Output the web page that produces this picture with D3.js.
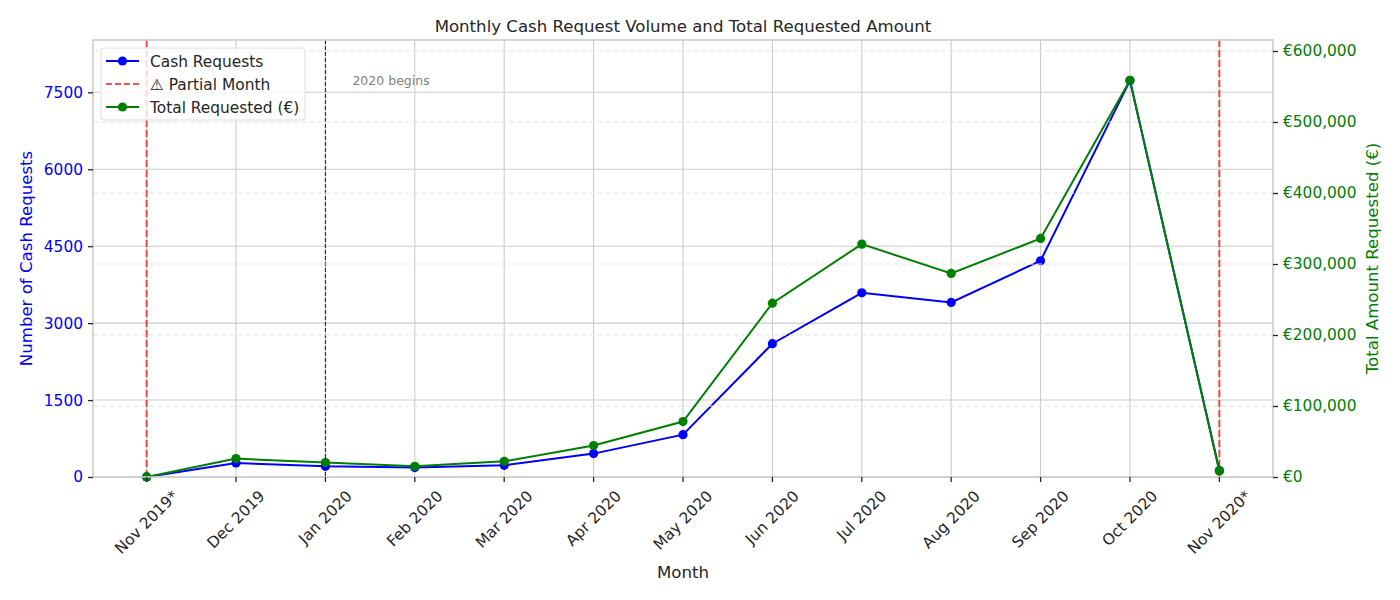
<!DOCTYPE html>
<html><head><meta charset="utf-8">
<script src="https://cdn.jsdelivr.net/npm/d3@7"></script>
<style>
body{margin:0;background:#fff;}
text{font-family:"DejaVu Sans",sans-serif;}
</style></head>
<body><svg id="c" width="1400" height="600"></svg>
<script>
const months = ["Nov 2019*","Dec 2019","Jan 2020","Feb 2020","Mar 2020","Apr 2020","May 2020","Jun 2020","Jul 2020","Aug 2020","Sep 2020","Oct 2020","Nov 2020*"];
const cashRequests = [1, 273, 208, 183, 228, 456, 826, 2599, 3592, 3403, 4216, 7728, 125];
const totalRequested = [100, 25900, 20300, 15100, 22100, 44260, 78080, 244800, 328000, 286700, 336000, 558700, 8500];
const leftTicks = [0, 1500, 3000, 4500, 6000, 7500];
const rightTicks = [0, 100000, 200000, 300000, 400000, 500000, 600000];
const partialMonths = ["Nov 2019*", "Nov 2020*"];
const yearStart = "Jan 2020";

const svg = d3.select("#c");
const L = 93, R = 1273, T = 40, B = 477;
const FS = 15.4, MR = 4.6;
const x = d3.scaleLinear().domain([-0.6, months.length - 1 + 0.6]).range([L, R]);
const yL = d3.scaleLinear().domain([0, 8520]).range([B, T]);
const yR = d3.scaleLinear().domain([0, 615500]).range([B, T]);
const blue = "#0000ff", green = "#008000", txt = "#262626";

// left grid
svg.append("g").selectAll("line").data(leftTicks).join("line")
  .attr("x1", L).attr("x2", R).attr("y1", d => yL(d)).attr("y2", d => yL(d))
  .attr("stroke", "#cccccc").attr("stroke-width", 1.1);
// vertical grid
svg.append("g").selectAll("line").data(months).join("line")
  .attr("x1", (d, i) => x(i)).attr("x2", (d, i) => x(i)).attr("y1", T).attr("y2", B)
  .attr("stroke", "#cccccc").attr("stroke-width", 1.1);

// blue line
const lineL = d3.line().x((d, i) => x(i)).y(d => yL(d));
svg.append("path").datum(cashRequests).attr("d", lineL)
  .attr("fill", "none").attr("stroke", blue).attr("stroke-width", 2);
svg.append("g").selectAll("circle").data(cashRequests).join("circle")
  .attr("cx", (d, i) => x(i)).attr("cy", d => yL(d)).attr("r", MR).attr("fill", blue);

// partial month lines
svg.append("g").selectAll("line").data(partialMonths).join("line")
  .attr("x1", d => x(months.indexOf(d))).attr("x2", d => x(months.indexOf(d)))
  .attr("y1", T).attr("y2", B)
  .attr("stroke", "#ff0000").attr("stroke-opacity", 0.7).attr("stroke-width", 2)
  .attr("stroke-dasharray", "7,3");
// year start
const xj = x(months.indexOf(yearStart));
svg.append("line").attr("x1", xj).attr("x2", xj).attr("y1", T).attr("y2", B)
  .attr("stroke", "#000").attr("stroke-opacity", 0.8).attr("stroke-width", 1.1).attr("stroke-dasharray", "4,2");
svg.append("text").attr("x", xj + 27).attr("y", 84.5).attr("font-size", 12.5).attr("fill", "#808080")
  .text("2020 begins");

// right dashed grid
svg.append("g").selectAll("line").data(rightTicks).join("line")
  .attr("x1", L).attr("x2", R).attr("y1", d => yR(d)).attr("y2", d => yR(d))
  .attr("stroke", "#e3e3e3").attr("stroke-width", 1.1).attr("stroke-dasharray", "5,3");

// green line
const lineR = d3.line().x((d, i) => x(i)).y(d => yR(d));
svg.append("path").datum(totalRequested).attr("d", lineR)
  .attr("fill", "none").attr("stroke", green).attr("stroke-width", 2);
svg.append("g").selectAll("circle").data(totalRequested).join("circle")
  .attr("cx", (d, i) => x(i)).attr("cy", d => yR(d)).attr("r", MR).attr("fill", green);

// spines
svg.append("rect").attr("x", L).attr("y", T).attr("width", R - L).attr("height", B - T)
  .attr("fill", "none").attr("stroke", "#cccccc").attr("stroke-width", 1.6);

// left axis
const gL = svg.append("g").attr("transform", `translate(${L},0)`)
  .call(d3.axisLeft(yL).tickValues(leftTicks).tickSize(5).tickPadding(5).tickFormat(d3.format("d")));
gL.select(".domain").remove();
gL.selectAll(".tick line").attr("stroke", "#262626").attr("stroke-width", 1.3);
gL.selectAll(".tick text").attr("fill", blue).attr("font-size", FS).attr("font-family", "DejaVu Sans");

// right axis
const gR = svg.append("g").attr("transform", `translate(${R},0)`)
  .call(d3.axisRight(yR).tickValues(rightTicks).tickSize(5).tickPadding(5).tickFormat(d => "€" + d3.format(",")(d)));
gR.select(".domain").remove();
gR.selectAll(".tick line").attr("stroke", "#262626").attr("stroke-width", 1.3);
gR.selectAll(".tick text").attr("fill", green).attr("font-size", FS).attr("font-family", "DejaVu Sans");

// bottom ticks
const gB = svg.append("g");
gB.selectAll("line").data(months).join("line")
  .attr("x1", (d, i) => x(i)).attr("x2", (d, i) => x(i)).attr("y1", B).attr("y2", B + 5)
  .attr("stroke", "#262626").attr("stroke-width", 1.3);
gB.selectAll("text").data(months).join("text")
  .attr("font-size", FS).attr("fill", txt).attr("text-anchor", "middle").attr("dominant-baseline", "central")
  .text(d => d)
  .each(function (d, i) {
    const w = this.getComputedTextLength();
    const h = FS * 1.0;
    const half = (w + h) * Math.SQRT1_2 / 2;
    const cx = x(i), cy = B + 11 + half;
    d3.select(this).attr("transform", `translate(${cx},${cy}) rotate(-45)`);
  });

// titles
svg.append("text").attr("x", (L + R) / 2).attr("y", 32).attr("text-anchor", "middle")
  .attr("font-size", 16.6).attr("fill", txt).text("Monthly Cash Request Volume and Total Requested Amount");
svg.append("text").attr("x", (L + R) / 2).attr("y", 578).attr("text-anchor", "middle")
  .attr("font-size", 16.6).attr("fill", txt).text("Month");
svg.append("text").attr("transform", `translate(32,${(T + B) / 2}) rotate(-90)`).attr("text-anchor", "middle")
  .attr("font-size", 16.6).attr("fill", blue).text("Number of Cash Requests");
svg.append("text").attr("transform", `translate(1378,${(T + B) / 2}) rotate(-90)`).attr("text-anchor", "middle")
  .attr("font-size", 16.6).attr("fill", green).text("Total Amount Requested (€)");

// legend
const lg = svg.append("g").attr("transform", "translate(101,48)");
lg.append("rect").attr("width", 204).attr("height", 72).attr("rx", 3)
  .attr("fill", "#fff").attr("fill-opacity", 0.8).attr("stroke", "#dddddd");
const items = [
  {label: "Cash Requests", color: blue, dash: null, marker: true},
  {label: "⚠ Partial Month", color: "rgba(255,0,0,0.7)", dash: "6,3", marker: false},
  {label: "Total Requested (€)", color: green, dash: null, marker: true}
];
items.forEach((it, k) => {
  const yy = 13 + k * 23;
  lg.append("line").attr("x1", 5).attr("x2", 38).attr("y1", yy).attr("y2", yy)
    .attr("stroke", it.color).attr("stroke-width", 2).attr("stroke-dasharray", it.dash);
  if (it.marker) lg.append("circle").attr("cx", 21.5).attr("cy", yy).attr("r", MR).attr("fill", it.color);
  lg.append("text").attr("x", 49).attr("y", yy + 5.5).attr("font-size", FS).attr("fill", txt).text(it.label);
});
</script></body></html>
